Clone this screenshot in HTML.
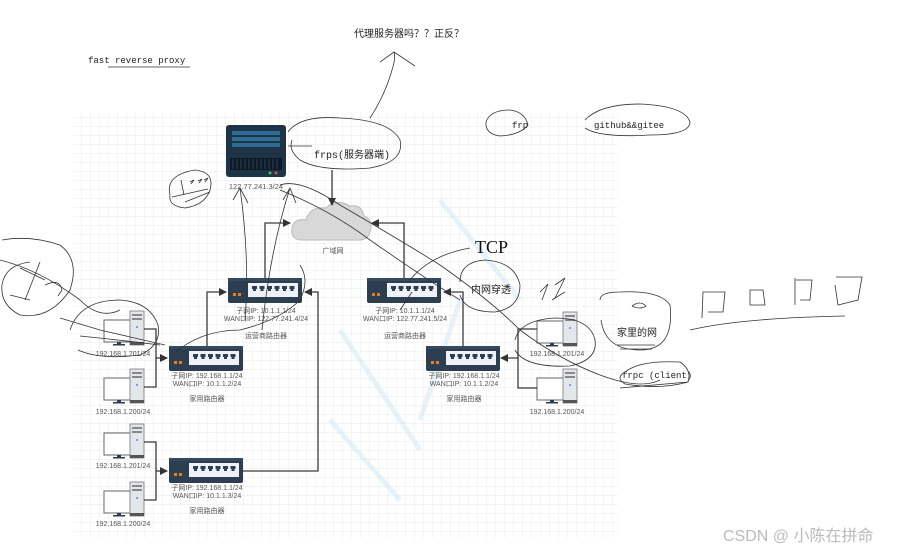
<!DOCTYPE html>
<html><head><meta charset="utf-8"><style>
html,body{margin:0;padding:0;background:#fff;}
svg{display:block;}
text{font-family:"Liberation Sans","Noto Sans CJK SC",sans-serif;}
.s{font-size:7px;fill:#555;}
.m{font-family:"Liberation Mono","Noto Sans CJK SC",monospace;font-size:9px;fill:#222;}
.h{fill:none;stroke:#333;stroke-width:0.8;}
.c{fill:none;stroke:#3a3a3a;stroke-width:1.3;}
</style></head><body>
<svg width="909" height="551" viewBox="0 0 909 551" xmlns="http://www.w3.org/2000/svg">
<defs>
<pattern id="g" width="9" height="9" patternUnits="userSpaceOnUse">
<path d="M9 0H0V9" fill="none" stroke="#e2e2e2" stroke-width="0.7"/>
</pattern>
<marker id="a" markerWidth="8" markerHeight="8" refX="7" refY="4" orient="auto" markerUnits="userSpaceOnUse">
<path d="M0,0 L8,4 L0,8 z" fill="#333"/>
</marker>
<g id="rt">
<rect x="0" y="0" width="74" height="25" rx="2" fill="#2c3e50"/>
<rect x="0" y="0" width="74" height="3" fill="#34495e"/>
<rect x="20" y="5" width="50" height="14" fill="#eef2f6"/>
<g fill="#2c3e50">
<path d="M24 8h5v3h-1v2h-3v-2h-1z"/><path d="M31.5 8h5v3h-1v2h-3v-2h-1z"/><path d="M39 8h5v3h-1v2h-3v-2h-1z"/>
<path d="M46.5 8h5v3h-1v2h-3v-2h-1z"/><path d="M54 8h5v3h-1v2h-3v-2h-1z"/><path d="M61.5 8h5v3h-1v2h-3v-2h-1z"/>
</g>
<rect x="5" y="15" width="3" height="3" fill="#e67e22"/><rect x="10" y="15" width="3" height="3" fill="#e67e22"/>
</g>
<g id="pc">
<rect x="0" y="9" width="30" height="22" fill="#fff" stroke="#666" stroke-width="1"/>
<rect x="13" y="31" width="4" height="3" fill="#2c3e50"/><rect x="9" y="33" width="12" height="1.5" fill="#2c3e50"/>
<rect x="26" y="0" width="14" height="34" fill="#e3e6ea" stroke="#777" stroke-width="0.8"/>
<rect x="28" y="3" width="10" height="2" fill="#888"/><rect x="28" y="7" width="10" height="2" fill="#888"/>
<circle cx="33" cy="16" r="1" fill="#5a8fd0"/>
<rect x="26" y="31" width="14" height="3" fill="#555"/>
</g>
</defs>

<rect x="74" y="112" width="544" height="426" fill="url(#g)"/>

<g stroke="#d6ecf7" stroke-width="5" fill="none" opacity="0.6">
<path d="M340 330 L420 450"/><path d="M440 200 L520 300"/><path d="M330 420 L400 500"/><path d="M460 300 L420 420"/>
</g>

<rect x="226" y="125" width="60" height="52" rx="3" fill="#1f3347"/>
<rect x="232" y="131" width="48" height="4" fill="#2e6c96"/><rect x="232" y="137" width="48" height="4" fill="#2e6c96"/><rect x="232" y="143" width="48" height="4" fill="#2e6c96"/>
<rect x="230" y="158" width="52" height="12" fill="#0d1a26"/>
<g stroke="#2a4258" stroke-width="1"><path d="M233 159v10M237 159v10M241 159v10M245 159v10M249 159v10M253 159v10M257 159v10M261 159v10M265 159v10M269 159v10M273 159v10M277 159v10"/></g>
<circle cx="270" cy="173" r="1.5" fill="#2ecc71"/><circle cx="276" cy="173" r="1.5" fill="#e74c3c"/>
<text x="256" y="189" text-anchor="middle" class="s" style="font-size:7.5px">122.77.241.3/24</text>

<path d="M300 240 Q290 238 292 228 Q294 218 306 220 Q310 206 326 208 Q336 198 350 206 Q362 204 364 216 Q374 220 370 232 Q368 241 356 240 Z" fill="#d8d8d8" stroke="#bbb" stroke-width="1"/>
<text x="333" y="253" text-anchor="middle" class="s">广域网</text>
<path d="M332 170 V205" class="c" marker-end="url(#a)"/>

<use href="#rt" x="228" y="278"/>
<text x="266" y="313" text-anchor="middle" class="s">子网IP:  10.1.1.1/24</text>
<text x="266" y="321" text-anchor="middle" class="s">WAN口IP:  122.77.241.4/24</text>
<text x="266" y="338" text-anchor="middle" class="s">运营商路由器</text>
<use href="#rt" x="367" y="278"/>
<text x="405" y="313" text-anchor="middle" class="s">子网IP:  10.1.1.1/24</text>
<text x="405" y="321" text-anchor="middle" class="s">WAN口IP:  122.77.241.5/24</text>
<text x="405" y="338" text-anchor="middle" class="s">运营商路由器</text>
<path d="M265 278 V223 H290" class="c" marker-end="url(#a)"/>
<path d="M404 278 V223 H372" class="c" marker-end="url(#a)"/>

<use href="#rt" x="169" y="346"/>
<text x="207" y="378" text-anchor="middle" class="s">子网IP:  192.168.1.1/24</text>
<text x="207" y="386" text-anchor="middle" class="s">WAN口IP:  10.1.1.2/24</text>
<text x="207" y="401" text-anchor="middle" class="s">家用路由器</text>
<use href="#rt" x="169" y="458"/>
<text x="207" y="490" text-anchor="middle" class="s">子网IP:  192.168.1.1/24</text>
<text x="207" y="498" text-anchor="middle" class="s">WAN口IP:  10.1.1.3/24</text>
<text x="207" y="513" text-anchor="middle" class="s">家用路由器</text>
<use href="#rt" x="426" y="346"/>
<text x="464" y="378" text-anchor="middle" class="s">子网IP:  192.168.1.1/24</text>
<text x="464" y="386" text-anchor="middle" class="s">WAN口IP:  10.1.1.2/24</text>
<text x="464" y="401" text-anchor="middle" class="s">家用路由器</text>

<path d="M207 346 V292 H226" class="c" marker-end="url(#a)"/>
<path d="M243 471 H318 V292 H305" class="c" marker-end="url(#a)"/>
<path d="M463 346 V292 H444" class="c" marker-end="url(#a)"/>

<use href="#pc" x="104" y="311"/>
<text x="123" y="356" text-anchor="middle" class="s">192.168.1.201/24</text>
<use href="#pc" x="104" y="369"/>
<text x="123" y="414" text-anchor="middle" class="s">192.168.1.200/24</text>
<use href="#pc" x="104" y="424"/>
<text x="123" y="468" text-anchor="middle" class="s">192.168.1.201/24</text>
<use href="#pc" x="104" y="482"/>
<text x="123" y="526" text-anchor="middle" class="s">192.168.1.200/24</text>
<path d="M144 329 H156 V387 H144" class="c"/><path d="M156 358 H167" class="c" marker-end="url(#a)"/>
<path d="M144 442 H156 V500 H144" class="c"/><path d="M156 471 H167" class="c" marker-end="url(#a)"/>

<use href="#pc" x="537" y="312"/>
<text x="557" y="356" text-anchor="middle" class="s">192.168.1.201/24</text>
<use href="#pc" x="537" y="369"/>
<text x="557" y="414" text-anchor="middle" class="s">192.168.1.200/24</text>
<path d="M537 329 H518 V388 H537" class="c"/><path d="M518 358 H501" class="c" marker-end="url(#a)"/>

<text x="88" y="63" class="m">fast reverse proxy</text>
<path d="M108 67 H190" class="h"/>
<text x="354" y="37" style="font-size:10px;fill:#222">代理服务器吗？？正反？</text>
<text x="314" y="158" class="m" style="font-size:10px">frps(服务器端)</text>
<text x="512" y="128" class="m">frp</text>
<text x="594" y="128" class="m">github&amp;&amp;gitee</text>
<text x="475" y="253" style="font-family:'Liberation Serif',serif;font-size:18px;fill:#111">TCP</text>
<text x="471" y="293" style="font-size:10px;fill:#222">内网穿透</text>
<text x="617" y="336" style="font-size:10px;fill:#222">家里的网</text>
<text x="622" y="378" class="m">frpc (client)</text>
<text x="723" y="541" style="font-size:16px;fill:#bbb">CSDN @  小陈在拼命</text>

<g class="h">
<path d="M288 132 Q300 115 340 118 Q390 120 400 140 Q405 162 370 168 Q320 172 300 160 Q288 150 292 140"/>
<path d="M288 146 H312"/>
<path d="M370 118 Q385 95 392 70 Q396 58 394 52 M380 62 L394 52 L415 66"/>
<path d="M170 195 Q165 175 195 170 Q215 172 210 190 Q205 205 185 208 Q168 206 170 195"/>
<path d="M181 180 L184 195 M190 182 l4 -2 l-3 4 M198 181 l4 -2 l-3 4 M204 180 l4 -2 l-3 4 M172 197 L208 189 M185 202 L210 192"/>
<path d="M233 200 L240 188 L248 203 M240 188 Q250 260 245 320"/>
<path d="M283 200 L290 188 L296 203 M290 188 Q270 250 262 330"/>
<path d="M280 185 Q300 178 340 205 Q400 240 440 265 Q490 300 520 330 Q560 360 600 375 Q640 390 660 380"/>
<path d="M280 190 Q330 210 370 240 Q420 275 460 300"/>
<path d="M410 280 Q430 255 470 248"/>
<path d="M400 310 L412 292"/>
<path d="M460 282 Q460 262 485 260 Q515 262 520 285 Q520 308 495 312 Q465 312 460 295"/>
<path d="M540 292 L548 284 L542 300 M555 285 L565 278 L555 298 M552 300 Q560 295 565 292"/>
<path d="M515 340 Q520 320 555 318 Q590 318 595 340 Q598 360 570 366 Q525 368 515 350"/>
<path d="M600 300 Q600 292 620 292 Q660 290 670 305 Q675 350 640 350 Q605 350 601 320"/>
<path d="M632 306 Q640 300 646 306 Q640 310 632 306"/>
<path d="M617 345 H655 M620 349 H652"/>
<path d="M625 372 Q640 360 680 362 Q692 370 688 382 Q660 390 625 384 Q615 378 625 372"/>
<path d="M620 388 L688 382"/>
<path d="M702 318 L703 292 H725 L723 312 H708 M750 290 L750 305 H765 L763 290 Z M795 278 V305 M796 280 H812 L810 300 H800 M835 285 L838 305 L858 300 L862 277 H836"/>
<path d="M690 330 Q740 318 845 316"/>
<path d="M2 240 Q30 235 60 245 Q80 260 70 290 Q50 320 20 315 Q0 305 2 285 Q5 265 30 262"/>
<path d="M20 268 L45 280 M40 262 L25 300 M10 295 L30 300 M45 285 Q60 278 62 290 L58 296"/>
<path d="M0 260 Q40 270 80 300 Q100 320 120 310"/>
<path d="M70 330 Q80 300 120 300 Q150 302 158 325 Q162 345 140 355 Q100 360 78 350"/>
<path d="M60 318 L100 330 L165 345 M80 336 Q120 340 160 345"/>
<path d="M486 122 Q490 110 510 110 Q525 112 528 125 Q520 135 500 136 Q485 134 486 122"/>
<path d="M585 120 Q600 104 640 104 Q685 106 690 122 Q690 135 650 135 Q600 138 585 128"/>
<path d="M172 355 Q200 330 240 330 Q280 320 300 300 Q310 280 300 265"/>
</g>
</svg>
</body></html>
